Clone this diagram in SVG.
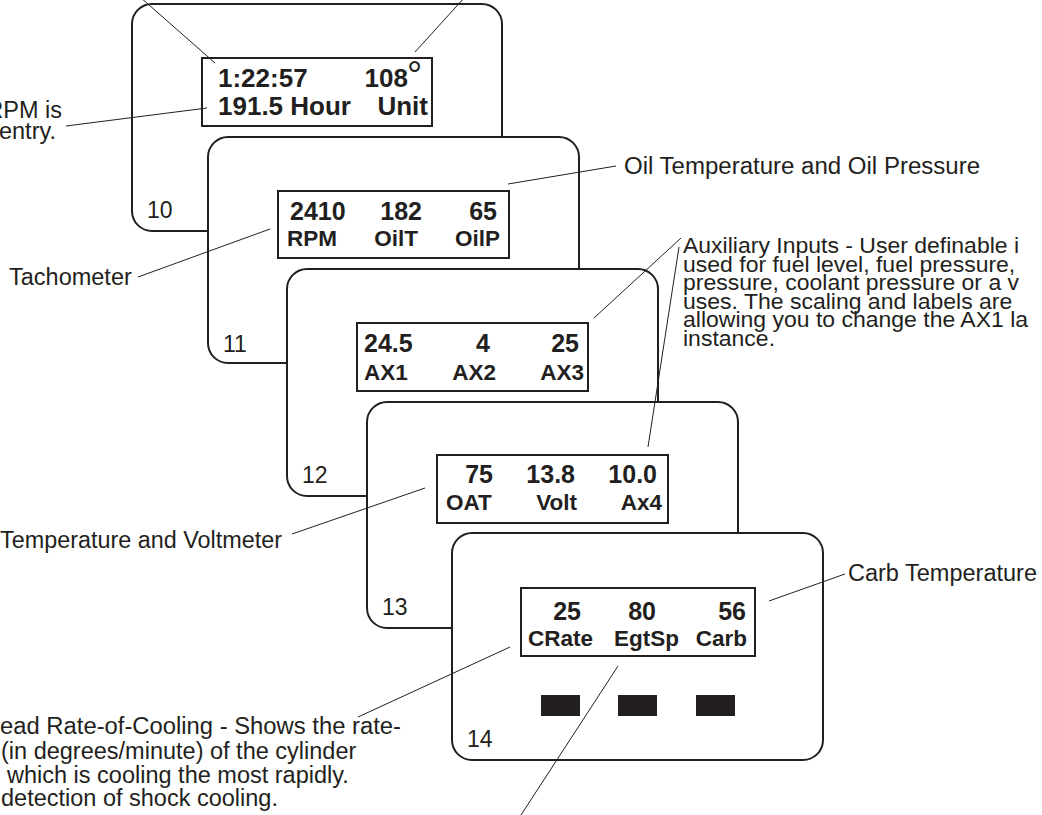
<svg xmlns="http://www.w3.org/2000/svg" width="1042" height="815" viewBox="0 0 1042 815">
<style>
.panel{fill:#fff;stroke:#231f20;stroke-width:2}
.disp{fill:#fff;stroke:#231f20;stroke-width:2}
.v{font-family:"Liberation Sans",Arial,sans-serif;font-weight:bold;font-size:25px;fill:#231f20}
.big{font-size:26px}
.l{font-family:"Liberation Sans",Arial,sans-serif;font-weight:bold;font-size:22.5px;fill:#231f20}
.n{font-family:"Liberation Sans",Arial,sans-serif;font-size:23px;fill:#231f20}
.a{font-family:"Liberation Sans",Arial,sans-serif;font-size:23.5px;fill:#231f20}
.ax{font-family:"Liberation Sans",Arial,sans-serif;font-size:22px;fill:#231f20}
.deg{font-family:"Liberation Sans",Arial,sans-serif;font-size:38px;fill:#231f20}
.e{text-anchor:end}
.ld{stroke:#231f20;stroke-width:1;fill:none}
.btn{fill:#231f20}
</style>
<rect width="1042" height="815" fill="#fff"/>
<g id="panel10">
<rect class="panel" x="132" y="4" width="370" height="227" rx="20"/>
<rect class="disp" x="202" y="58" width="230" height="68"/>
<text class="v big" x="218" y="87">1:22:57</text>
<text class="v big e" x="408" y="87">108</text>
<text class="deg" x="407" y="88">°</text>
<text class="v big" x="218" y="115">191.5 Hour</text>
<text class="v big e" x="428" y="115">Unit</text>
<text class="n" x="147" y="218">10</text>
</g>
<g id="panel11">
<rect class="panel" x="208" y="137" width="371" height="226" rx="20"/>
<rect class="disp" x="278" y="191" width="231" height="67"/>
<text class="v" x="290" y="220">2410</text>
<text class="v e" x="422" y="220">182</text>
<text class="v e" x="497" y="220">65</text>
<text class="l" x="287" y="246">RPM</text>
<text class="l e" x="418" y="246">OilT</text>
<text class="l e" x="500" y="246">OilP</text>
<text class="n" x="223" y="352">11</text>
</g>
<g id="panel12">
<rect class="panel" x="287" y="269" width="371" height="227" rx="20"/>
<rect class="disp" x="357" y="323" width="231" height="68"/>
<text class="v" x="364" y="352">24.5</text>
<text class="v e" x="490" y="352">4</text>
<text class="v e" x="579" y="352">25</text>
<text class="l" x="364" y="380">AX1</text>
<text class="l e" x="496" y="380">AX2</text>
<text class="l e" x="584" y="380">AX3</text>
<text class="n" x="302" y="483">12</text>
</g>
<g id="panel13">
<rect class="panel" x="367" y="402" width="371" height="226" rx="20"/>
<rect class="disp" x="437" y="455" width="231" height="68"/>
<text class="v e" x="493" y="483">75</text>
<text class="v e" x="575" y="483">13.8</text>
<text class="v e" x="657" y="483">10.0</text>
<text class="l" x="446" y="510">OAT</text>
<text class="l e" x="577" y="510">Volt</text>
<text class="l e" x="662" y="510">Ax4</text>
<text class="n" x="382" y="615">13</text>
</g>
<g id="panel14">
<rect class="panel" x="452" y="533" width="371" height="227" rx="20"/>
<rect class="disp" x="521" y="588" width="234" height="68"/>
<text class="v e" x="581" y="620">25</text>
<text class="v e" x="656" y="620">80</text>
<text class="v e" x="746" y="620">56</text>
<text class="l" x="528" y="646">CRate</text>
<text class="l e" x="679" y="646">EgtSp</text>
<text class="l e" x="747" y="646">Carb</text>
<rect class="btn" x="541" y="695" width="39" height="21"/>
<rect class="btn" x="618" y="695" width="39" height="21"/>
<rect class="btn" x="696" y="695" width="39" height="21"/>
<text class="n" x="467" y="747">14</text>
</g>
<g id="labels">
<text class="a e" x="62" y="118">RPM is</text>
<text class="a e" x="56" y="139">entry.</text>
<text class="a" x="624" y="174" textLength="356" lengthAdjust="spacingAndGlyphs">Oil Temperature and Oil Pressure</text>
<text class="a" x="9" y="285">Tachometer</text>
<g transform="translate(683,0) scale(1.045,1)">
<text class="ax" x="0" y="253">Auxiliary Inputs - User definable i</text>
<text class="ax" x="0" y="271.6">used for fuel level, fuel pressure,</text>
<text class="ax" x="0" y="290.2">pressure, coolant pressure or a v</text>
<text class="ax" x="0" y="308.8">uses. The scaling and labels are</text>
<text class="ax" x="0" y="327.4">allowing you to change the AX1 la</text>
<text class="ax" x="0" y="346">instance.</text>
</g>
<text class="a" x="0" y="548" textLength="282" lengthAdjust="spacingAndGlyphs">Temperature and Voltmeter</text>
<text class="a" x="848" y="581">Carb Temperature</text>
<text class="a" x="0" y="734" textLength="401" lengthAdjust="spacingAndGlyphs">ead Rate-of-Cooling - Shows the rate-</text>
<text class="a" x="1" y="759">(in degrees/minute) of the cylinder</text>
<text class="a" x="7" y="783">which is cooling the most rapidly.</text>
<text class="a" x="1" y="806">detection of shock cooling.</text>
</g>
<g id="connectors">
<line class="ld" x1="140" y1="-3" x2="215" y2="63"/>
<line class="ld" x1="465" y1="-3" x2="415" y2="52"/>
<line class="ld" x1="66" y1="126" x2="207" y2="108"/>
<line class="ld" x1="508" y1="184" x2="616" y2="166"/>
<line class="ld" x1="138" y1="277" x2="270" y2="229"/>
<line class="ld" x1="594" y1="318" x2="681" y2="238"/>
<line class="ld" x1="648" y1="447" x2="679" y2="247"/>
<line class="ld" x1="292" y1="534" x2="425" y2="488"/>
<line class="ld" x1="358" y1="717" x2="510" y2="647"/>
<line class="ld" x1="618" y1="666" x2="521" y2="815"/>
<line class="ld" x1="769" y1="601" x2="845" y2="574"/>
</g>
</svg>
